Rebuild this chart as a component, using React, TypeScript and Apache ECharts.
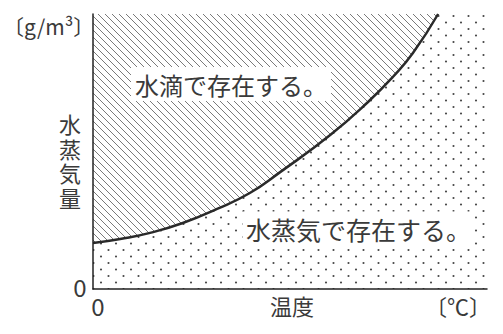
import React, { useEffect, useRef } from 'react';
import * as echarts from 'echarts';

// Temperature (x, 0–100 of axis span) and saturation vapour amount (y, 0–100 of axis span)
const tempX = [0, 6.9, 14.5, 22.8, 31.5, 39.8, 47.5, 60.2, 69.8, 76.1, 81.2, 87.6];
const vaporY = [16.7, 18.2, 20.4, 24.0, 29.1, 34.9, 42.5, 56.0, 68.0, 77.1, 85.8, 100];
const axisMax = 100;

const yUnit = '〔g/m³〕';
const yName = ['水', '蒸', '気', '量'];
const xName = '温度';
const xUnit = '〔℃〕';
const zeroLabel = '0';
const upperLabel = '水滴で存在する。';
const lowerLabel = '水蒸気で存在する。';

const FONT = '"Noto Sans CJK JP", "Noto Sans", sans-serif';
const TEXT_COLOR = '#3a3a3a';

function hatchPattern(): HTMLCanvasElement {
  const s = 7;
  const c = document.createElement('canvas');
  c.width = s;
  c.height = s;
  const g = c.getContext('2d')!;
  g.fillStyle = '#fff';
  g.fillRect(0, 0, s, s);
  g.strokeStyle = '#7a7a7a';
  g.lineWidth = 1;
  for (const k of [-1, 0, 1]) {
    g.beginPath();
    g.moveTo(k * s - 1, -1);
    g.lineTo(k * s + s + 1, s + 1);
    g.stroke();
  }
  return c;
}

function dotPattern(): HTMLCanvasElement {
  const w = 15;
  const h = 13;
  const c = document.createElement('canvas');
  c.width = w;
  c.height = h;
  const g = c.getContext('2d')!;
  g.fillStyle = '#fff';
  g.fillRect(0, 0, w, h);
  g.fillStyle = '#444';
  g.beginPath();
  g.arc(3.5, 3, 1.05, 0, Math.PI * 2);
  g.fill();
  g.beginPath();
  g.arc(11, 9.5, 1.05, 0, Math.PI * 2);
  g.fill();
  return c;
}

export default function App() {
  const ref = useRef<HTMLDivElement>(null);
  useEffect(() => {
    if (!ref.current) return;
    const chart = echarts.init(ref.current, undefined, { renderer: 'svg' });
    const curve = tempX.map((x, i) => [x, vaporY[i]]);
    const axisCommon = {
      type: 'value' as const,
      min: 0,
      max: axisMax,
      z: 5,
      axisLine: { show: true, onZero: false, lineStyle: { color: '#222', width: 1.5 } },
      axisTick: { show: false },
      axisLabel: { show: false },
      splitLine: { show: false },
    };
    const yNameTexts = yName.map((ch, i) => ({
      type: 'text', x: 70, y: 123 + i * 24.5, z: 10,
      style: {
        text: ch, font: `22px ${FONT}`, fill: TEXT_COLOR,
        textAlign: 'center', textVerticalAlign: 'middle',
      },
    }));
    chart.setOption({
      animation: false,
      backgroundColor: '#fff',
      grid: { left: 93, right: 16, top: 14, bottom: 45 },
      xAxis: { ...axisCommon },
      yAxis: { ...axisCommon },
      series: [
        {
          type: 'line',
          data: [[0, axisMax], [axisMax, axisMax]],
          symbol: 'none',
          lineStyle: { width: 0 },
          areaStyle: { color: { image: dotPattern(), repeat: 'repeat' }, opacity: 1, origin: 'start' },
          silent: true,
        },
        {
          type: 'line',
          data: curve,
          smooth: 0.5,
          symbol: 'none',
          lineStyle: { color: '#2a2a2a', width: 2.5 },
          areaStyle: { color: { image: hatchPattern(), repeat: 'repeat' }, opacity: 1, origin: 'end' },
          silent: true,
        },
      ],
      graphic: [
        {
          type: 'text', x: 131, y: 84, z: 10,
          style: {
            text: upperLabel, font: `24px ${FONT}`, fill: TEXT_COLOR,
            textAlign: 'left', textVerticalAlign: 'middle',
            backgroundColor: '#fff', padding: [5, 4],
          },
        },
        {
          type: 'text', x: 243, y: 229, z: 10,
          style: {
            text: lowerLabel, font: `25px ${FONT}`, fill: TEXT_COLOR,
            textAlign: 'left', textVerticalAlign: 'middle',
            backgroundColor: '#fff', padding: [5, 3],
          },
        },
        {
          type: 'text', x: 3, y: 26, z: 10,
          style: {
            text: yUnit, font: `21px ${FONT}`, fill: TEXT_COLOR,
            textAlign: 'left', textVerticalAlign: 'middle',
          },
        },
        ...yNameTexts,
        {
          type: 'text', x: 80, y: 286, z: 10,
          style: {
            text: zeroLabel, font: `24px ${FONT}`, fill: TEXT_COLOR,
            textAlign: 'center', textVerticalAlign: 'middle',
          },
        },
        {
          type: 'text', x: 98, y: 305, z: 10,
          style: {
            text: zeroLabel, font: `24px ${FONT}`, fill: TEXT_COLOR,
            textAlign: 'center', textVerticalAlign: 'middle',
          },
        },
        {
          type: 'text', x: 292, y: 305, z: 10,
          style: {
            text: xName, font: `22px ${FONT}`, fill: TEXT_COLOR,
            textAlign: 'center', textVerticalAlign: 'middle',
          },
        },
        {
          type: 'text', x: 491, y: 305, z: 10,
          style: {
            text: xUnit, font: `22px ${FONT}`, fill: TEXT_COLOR,
            textAlign: 'right', textVerticalAlign: 'middle',
          },
        },
      ],
    });
    return () => chart.dispose();
  }, []);
  return (
    <div
      ref={ref}
      style={{ position: 'fixed', left: 0, top: 0, width: 503, height: 334, background: '#fff' }}
    />
  );
}
